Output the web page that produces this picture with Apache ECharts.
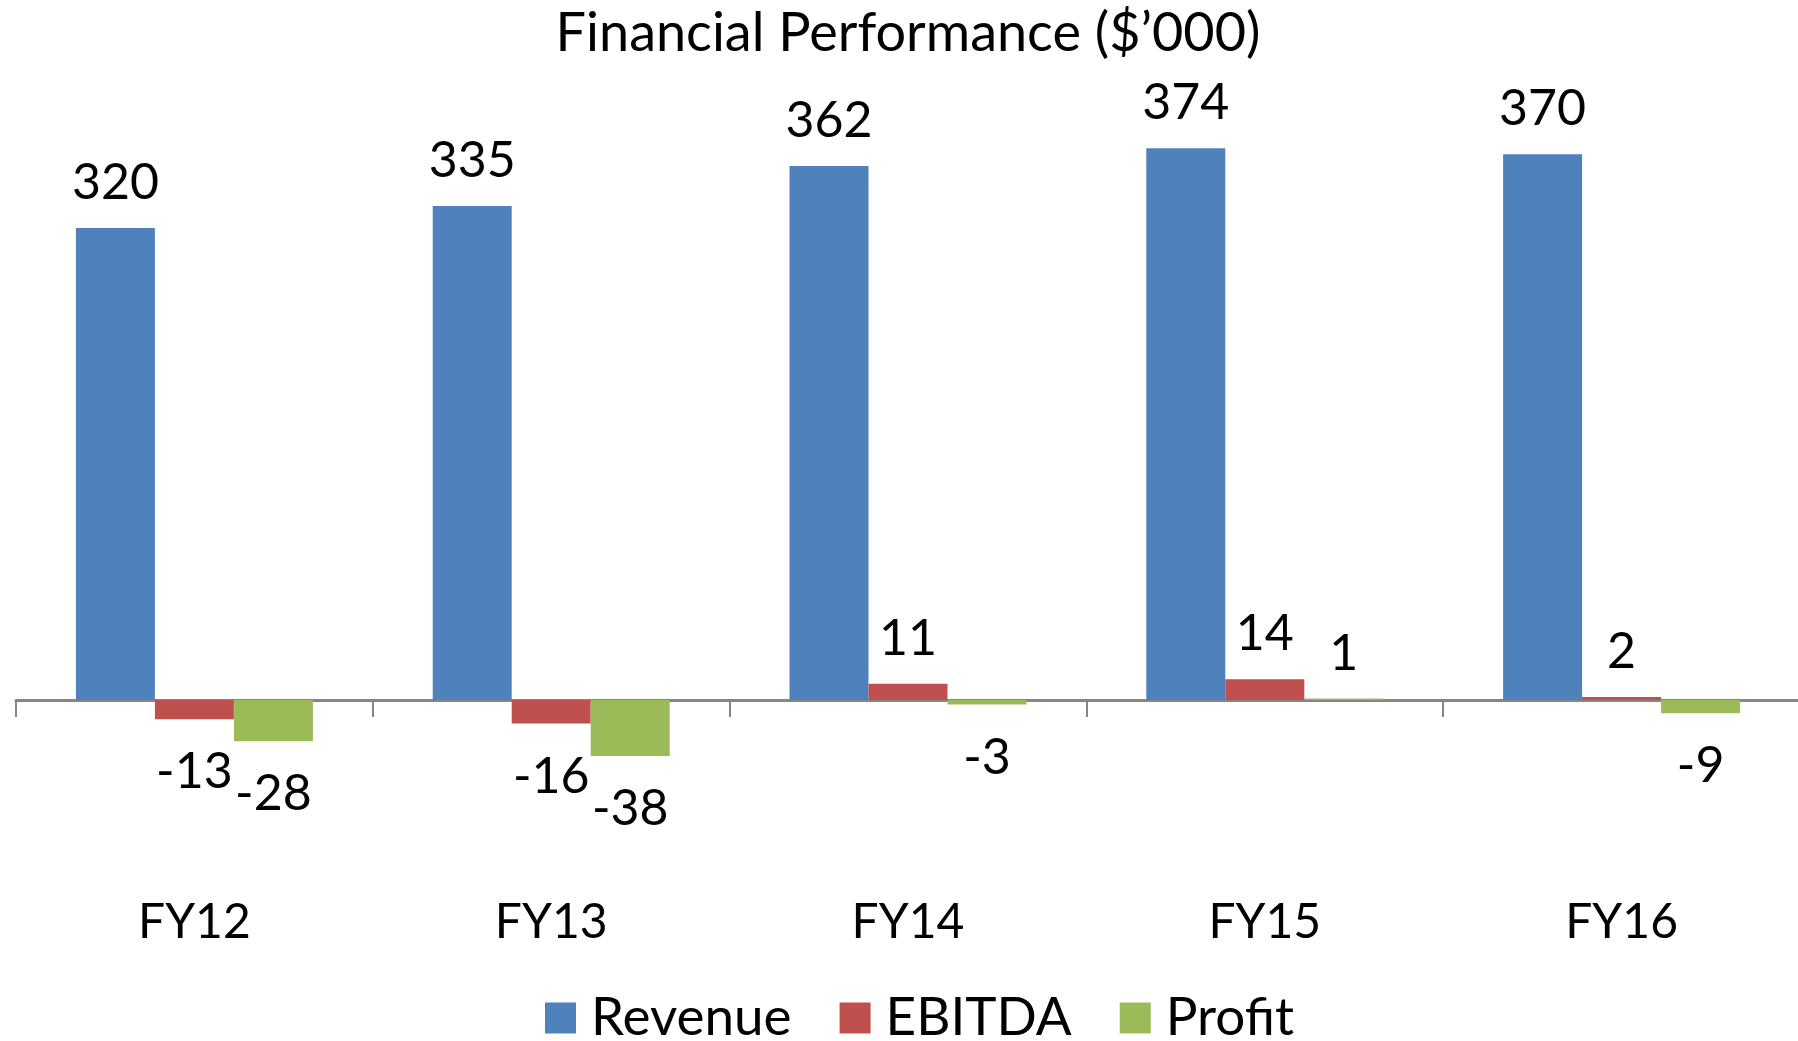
<!DOCTYPE html>
<html>
<head>
<meta charset="utf-8">
<script src="https://cdn.jsdelivr.net/npm/echarts@6/dist/echarts.min.js"></script>
<style>
html,body{margin:0;padding:0;background:#fff;}
#main{width:1798px;height:1041px;}
</style>
</head>
<body>
<div id="main"></div>
<script>
const categories = ['FY12', 'FY13', 'FY14', 'FY15', 'FY16'];
const revenue = [320, 335, 362, 374, 370];
const ebitda = [-13, -16, 11, 14, 2];
const profit = [-28, -38, -3, 1, -9];
const seriesNames = ['Revenue', 'EBITDA', 'Profit'];
const titleText = 'Financial Performance ($\u2019000)';

const FONT = 'Lato';
const FS = 48;
const LFS = 50;
const colors = ['#4F81BD', '#C0504D', '#9BBB59'];

function toItems(arr) {
  return arr.map(v => ({
    value: v,
    label: v >= 0 ? { position: 'top', distance: 20 } : { position: 'bottom', distance: 28 }
  }));
}

const chart = echarts.init(document.getElementById('main'));
chart.setOption({
  animation: false,
  color: colors,
  textStyle: { fontFamily: FONT },
  title: {
    text: titleText,
    left: 903,
    textAlign: 'center',
    top: 2,
    textStyle: { fontFamily: FONT, fontSize: 54, fontWeight: 'normal', color: '#000' }
  },
  legend: {
    data: seriesNames,
    left: 540,
    top: 983,
    itemWidth: 31,
    itemHeight: 31,
    itemGap: 48,
    icon: 'rect',
    textStyle: { fontFamily: FONT, fontSize: 53, lineHeight: 60, color: '#000', padding: [0, 0, 0, 10] }
  },
  grid: { left: 16, top: 110, width: 1784, height: 737.5, containLabel: false, outerBoundsMode: 'none' },
  xAxis: [
    {
      type: 'category',
      data: categories,
      axisLine: { onZero: true, lineStyle: { color: '#868686', width: 3 } },
      axisTick: { show: true, length: 17, lineStyle: { color: '#868686', width: 2 } },
      axisLabel: { show: false }
    },
    {
      type: 'category',
      data: categories,
      position: 'bottom',
      axisLine: { show: false, onZero: false },
      axisTick: { show: false },
      axisLabel: { show: true, margin: 51, fontFamily: FONT, fontSize: FS, color: '#000' }
    }
  ],
  yAxis: {
    type: 'value',
    min: -100,
    max: 400,
    interval: 100,
    show: false,
    splitLine: { show: false }
  },
  series: [
    { name: seriesNames[0], type: 'bar', data: toItems(revenue), barWidth: 79, barGap: '0%', barCategoryGap: '33.6%',
      label: { show: true, fontFamily: FONT, fontSize: LFS, color: '#000' } },
    { name: seriesNames[1], type: 'bar', data: toItems(ebitda), barWidth: 79, barGap: '0%',
      label: { show: true, fontFamily: FONT, fontSize: LFS, color: '#000' } },
    { name: seriesNames[2], type: 'bar', data: toItems(profit), barWidth: 79, barGap: '0%',
      label: { show: true, fontFamily: FONT, fontSize: LFS, color: '#000' } }
  ]
});
</script>
</body>
</html>
